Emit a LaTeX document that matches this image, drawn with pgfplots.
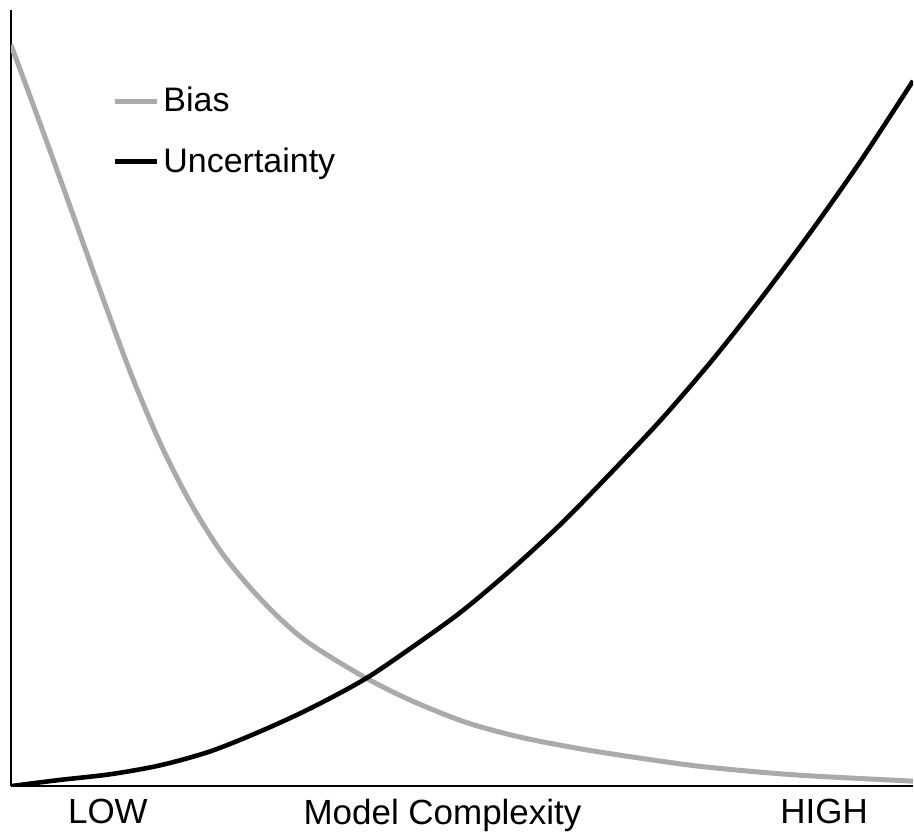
\documentclass[border=0pt]{standalone}
\usepackage{fontspec}
\setmainfont{Liberation Sans}
\usepackage{pgfplots}
\pgfplotsset{compat=1.18}
\definecolor{biasgray}{RGB}{170,170,170}

\begin{document}
\begin{tikzpicture}
\begin{axis}[
    scale only axis,
    width=451.5pt, height=388.5pt,
    xmin=0, xmax=903, ymin=0, ymax=777,
    axis x line*=bottom, axis y line*=left,
    axis line style={line width=1pt, black},
    xtick={97,432,814},
    xticklabels={LOW, Model Complexity, HIGH},
    ytick=\empty,
    major tick length=0pt,
    tick label style={font=\fontsize{17.5}{21}\selectfont},
    xticklabel style={yshift=-3pt},
    clip=true,
    legend style={draw=none, fill=none, at={(rel axis cs:0.112,0.906)}, anchor=north west,
        inner sep=0pt, font=\fontsize{17}{21}\selectfont, row sep=12.5pt,
        /tikz/every even column/.append style={column sep=0pt}},
    legend cell align=left,
    legend image code/.code={\draw[#1] (0cm,0cm) -- (0.74cm,0cm);},
]
    % Bias (gray, decreasing)
    \addplot[biasgray, line width=2.5pt, smooth] coordinates {
        (0,742) (30,661) (60,578) (90,494) (120,413) (150,342) (180,283)
        (210,235) (240,198) (270,167) (300,142) (354,109) (400,86) (455,64)
        (510,49) (572,37) (630,28) (688,20) (750,14) (805,10) (903,5)
    };
    \addlegendentry{Bias}
    % Uncertainty (black, increasing)
    \addplot[black, line width=2.3pt, smooth] coordinates {
        (0,0) (47,6) (100,12) (150,21) (200,35) (250,55) (300,78) (354,107)
        (400,138) (450,174) (500,216) (550,262) (600,313) (650,366)
        (700,424) (750,487) (800,554) (850,625) (903,706)
    };
    \addlegendentry{Uncertainty}
\end{axis}
\path (current axis.south west) ++(-5.5pt,0) (current axis.north west) ++(0,5pt);
\end{tikzpicture}
\end{document}
